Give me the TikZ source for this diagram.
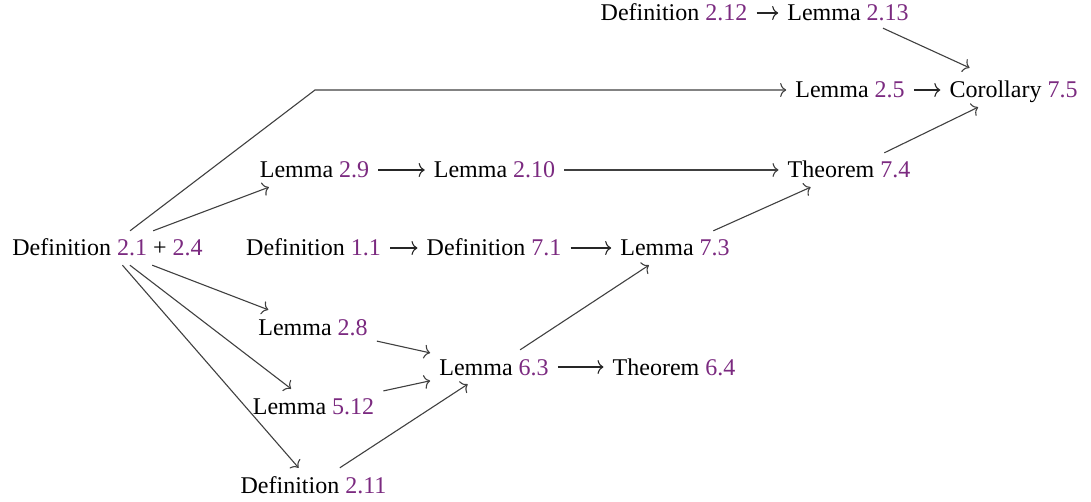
\documentclass[tikz,border=0pt]{standalone}
\usepackage{fontspec}
\setmainfont{Liberation Serif}
\usetikzlibrary{arrows.meta}
\definecolor{refnum}{HTML}{7B2A80}
\definecolor{edgecol}{HTML}{404040}
\newcommand{\rn}[1]{\textcolor{refnum}{#1}}
\tikzset{
  res/.style={inner xsep=9pt,inner ysep=8pt,text height=17pt,text depth=1pt,font=\fontsize{24}{28}\selectfont},
  conn/.style={draw=edgecol,line width=1.1pt,-{To[length=6pt,width=14pt]}},
  glyph/.style={draw=black!85,line width=1.1pt,-{To[length=6pt,width=14pt]}}
}
\begin{document}
\begin{tikzpicture}[x=1pt,y=-1pt]
\useasboundingbox (0,0) rectangle (1091,502);
\node[res] (def212) at (674,13) {Definition \rn{2.12}};
\node[res] (l213) at (848,13) {Lemma \rn{2.13}};
\node[res] (def21) at (107.5,248) {Definition \rn{2.1} + \rn{2.4}};
\node[res] (l25) at (850,90) {Lemma \rn{2.5}};
\node[res] (c75) at (1013.5,90) {Corollary \rn{7.5}};
\node[res] (l29) at (314.5,170) {Lemma \rn{2.9}};
\node[res] (l210) at (494.5,170) {Lemma \rn{2.10}};
\node[res] (t74) at (849,170) {Theorem \rn{7.4}};
\node[res] (d11) at (313.5,248) {Definition \rn{1.1}};
\node[res] (d71) at (494,248) {Definition \rn{7.1}};
\node[res] (l73) at (675,248) {Lemma \rn{7.3}};
\node[res] (l28) at (313,327) {Lemma \rn{2.8}};
\node[res] (l63) at (494,367) {Lemma \rn{6.3}};
\node[res] (t64) at (674,367) {Theorem \rn{6.4}};
\node[res] (l512) at (313.5,406) {Lemma \rn{5.12}};
\node[res] (d211) at (313.5,485) {Definition \rn{2.11}};
\coordinate (bend) at (315,90);
% connectors
\draw[conn] (def21) -- (bend) -- (l25);
\draw[conn] (def21) -- (l29);
\draw[conn] (def21) -- (l28);
\draw[conn] (def21) -- (l512);
\draw[conn] (def21) -- (d211);
\draw[glyph] (l29) -- (l210);
\draw[conn] (l210) -- (t74);
\draw[glyph] (d11) -- (d71);
\draw[glyph] (d71) -- (l73);
\draw[conn] (l73) -- (t74);
\draw[conn] (l28) -- (l63);
\draw[conn] (l512) -- (l63);
\draw[conn] (d211) -- (l63);
\draw[conn] (l63) -- (l73);
\draw[glyph] (l63) -- (t64);
\draw[conn] (t74) -- (c75);
\draw[glyph] (l25) -- (c75);
\draw[glyph] (def212) -- (l213);
\draw[conn] ([shift={(35,-2)}]l213.south) -- ([shift={(-44,-5)}]c75.north);
\end{tikzpicture}
\end{document}
